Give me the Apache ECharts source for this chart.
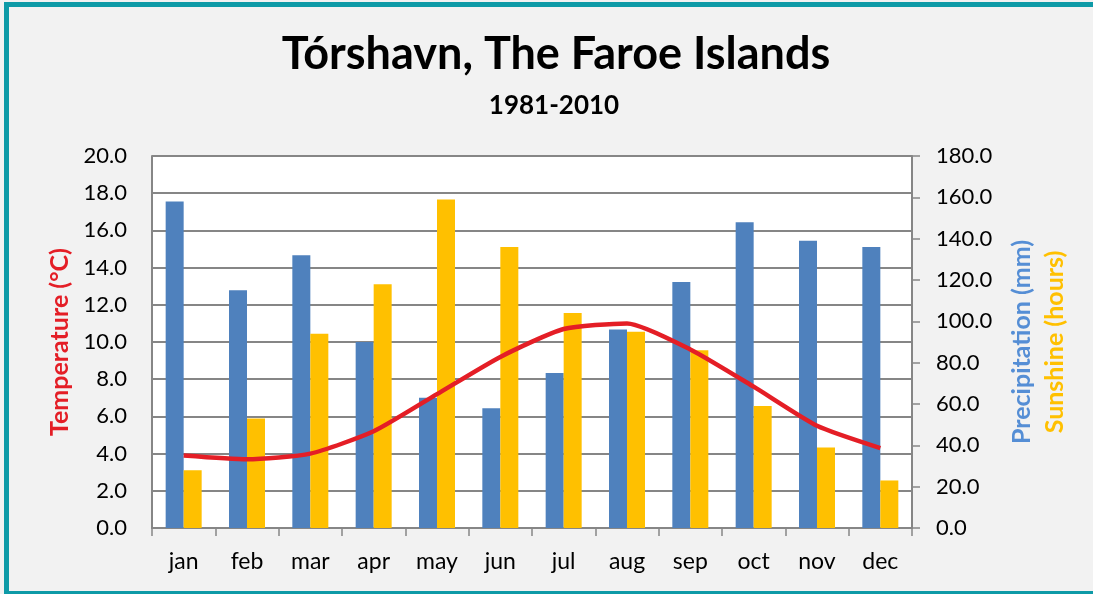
<!DOCTYPE html>
<html>
<head>
<meta charset="utf-8">
<title>Tórshavn climate</title>
<script src="https://cdn.jsdelivr.net/npm/echarts@6/dist/echarts.min.js"></script>
<style>
  html, body { margin: 0; padding: 0; background: #f2f2f2; }
  #wrap { position: relative; width: 1093px; height: 594px; }
  #chart { position: absolute; left: 0; top: 0; width: 1093px; height: 594px; }
  #frame {
    position: absolute; left: 4px; top: 2px; width: 1089px; height: 592px;
    box-sizing: border-box; pointer-events: none;
    border-left: 5px solid #0e9aa7; border-top: 5px solid #0e9aa7; border-bottom: 3px solid #0e9aa7;
  }
</style>
</head>
<body>
<div id="wrap">
  <div id="chart"></div>
  <div id="frame"></div>
</div>
<script>
// months
var months = ['jan', 'feb', 'mar', 'apr', 'may', 'jun', 'jul', 'aug', 'sep', 'oct', 'nov', 'dec']
// precipitation (mm), right axis
var precipitation = [158, 115, 132, 90, 63, 58, 75, 96, 119, 148, 139, 136]
// sunshine (hours), right axis
var sunshine = [28, 53, 94, 118, 159, 136, 104, 95, 86, 59, 39, 23]
// mean temperature (°C), left axis
var temperature = [3.9, 3.7, 4.0, 5.2, 7.2, 9.2, 10.7, 11.0, 9.6, 7.6, 5.5, 4.3]

var FONT = 'Lato, "Open Sans", sans-serif'
var GRID_COLOR = '#868686'

var chart = echarts.init(document.getElementById('chart'))

var option = {
  backgroundColor: '#f2f2f2',
  animation: false,
  textStyle: { fontFamily: FONT },
  title: [
    {
      text: 'Tórshavn, The Faroe Islands',
      left: 556,
      top: 32,
      padding: 0,
      textAlign: 'center',
      textStyle: { fontSize: 45, fontWeight: 'bold', color: '#000', fontFamily: FONT },
    },
    {
      text: '1981-2010',
      left: 554,
      top: 93,
      padding: 0,
      textAlign: 'center',
      textStyle: { fontSize: 26, fontWeight: 'bold', color: '#000', fontFamily: FONT },
    },
  ],
  grid: {
    left: 152,
    right: 181,
    top: 156,
    bottom: 66,
    show: true,
    backgroundColor: '#ffffff',
    borderWidth: 0,
  },
  xAxis: {
    type: 'category',
    data: months,
    boundaryGap: true,
    axisLine: { lineStyle: { color: GRID_COLOR, width: 2 } },
    axisTick: { show: true, length: 8, inside: false, lineStyle: { color: GRID_COLOR, width: 1.5 } },
    axisLabel: { fontSize: 23, color: '#000', margin: 22, fontFamily: FONT },
  },
  yAxis: [
    {
      type: 'value',
      min: 0,
      max: 20,
      interval: 2,
      name: 'Temperature (°C)',
      nameLocation: 'middle',
      nameRotate: 90,
      nameGap: 80,
      nameTextStyle: { color: '#e41e26', fontSize: 25, fontWeight: 'bold', fontFamily: FONT },
      axisLine: { show: true, lineStyle: { color: GRID_COLOR, width: 2 } },
      axisTick: { show: false },
      axisLabel: {
        fontSize: 22,
        color: '#000',
        margin: 25,
        fontFamily: FONT,
        formatter: function (v) { return v.toFixed(1) },
      },
      splitLine: { show: true, lineStyle: { color: GRID_COLOR, width: 2 } },
    },
    {
      type: 'value',
      min: 0,
      max: 180,
      interval: 20,
      position: 'right',
      name: '{p|Precipitation (mm)}\n{s|Sunshine (hours)}',
      nameLocation: 'middle',
      nameRotate: 90,
      nameGap: 93,
      nameTextStyle: {
        fontFamily: FONT,
        rich: {
          p: { color: '#558ed5', fontSize: 25, fontWeight: 'bold', lineHeight: 33, fontFamily: FONT },
          s: { color: '#ffc000', fontSize: 25, fontWeight: 'bold', lineHeight: 33, fontFamily: FONT },
        },
      },
      axisLine: { show: true, lineStyle: { color: GRID_COLOR, width: 2 } },
      axisTick: { show: true, length: 8, inside: false, lineStyle: { color: GRID_COLOR, width: 1.5 } },
      axisLabel: {
        fontSize: 22,
        color: '#000',
        margin: 24,
        fontFamily: FONT,
        formatter: function (v) { return v.toFixed(1) },
      },
      splitLine: { show: false },
    },
  ],
  series: [
    {
      name: 'Precipitation',
      type: 'bar',
      yAxisIndex: 1,
      barWidth: 18,
      barGap: '0%',
      itemStyle: { color: '#4f81bd' },
      data: precipitation,
    },
    {
      name: 'Sunshine',
      type: 'bar',
      yAxisIndex: 1,
      barWidth: 18,
      barGap: '0%',
      itemStyle: { color: '#ffc000' },
      data: sunshine,
    },
    {
      name: 'Temperature',
      type: 'line',
      yAxisIndex: 0,
      smooth: 0.2,
      showSymbol: false,
      symbol: 'none',
      z: 5,
      lineStyle: { color: '#e41e26', width: 4.5 },
      data: temperature,
    },
  ],
}

chart.setOption(option)

window.onresize = function () {
  chart.resize()
}
</script>
</body>
</html>
